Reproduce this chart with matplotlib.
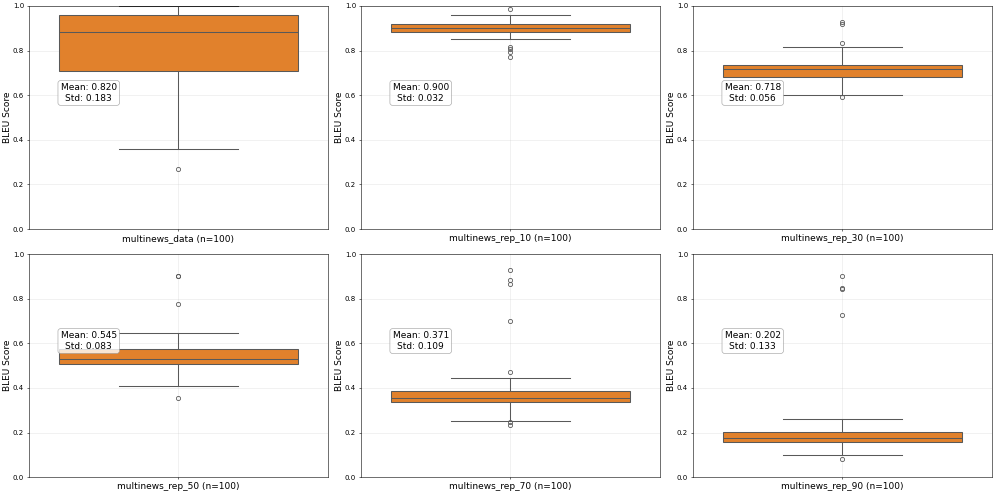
import matplotlib
matplotlib.use("Agg")
import matplotlib.pyplot as plt

# box summary stats (BLEU scores, n=100 each)
names = ["multinews_data", "multinews_rep_10", "multinews_rep_30",
         "multinews_rep_50", "multinews_rep_70", "multinews_rep_90"]
counts = [100, 100, 100, 100, 100, 100]
means = [0.820, 0.900, 0.718, 0.545, 0.371, 0.202]
stds = [0.183, 0.032, 0.056, 0.083, 0.109, 0.133]
q1 = [0.709, 0.882, 0.681, 0.507, 0.335, 0.159]
medians = [0.885, 0.900, 0.717, 0.531, 0.356, 0.177]
q3 = [0.960, 0.918, 0.736, 0.575, 0.388, 0.201]
whis_lo = [0.359, 0.851, 0.601, 0.410, 0.253, 0.099]
whis_hi = [1.000, 0.958, 0.815, 0.647, 0.443, 0.262]
fliers = [
    [0.271],
    [0.985, 0.817, 0.806, 0.795, 0.770],
    [0.930, 0.919, 0.833, 0.592],
    [0.903, 0.901, 0.778, 0.353],
    [0.930, 0.882, 0.864, 0.702, 0.473, 0.245, 0.232],
    [0.901, 0.849, 0.845, 0.728, 0.081],
]

box_color = "#e1812c"
line_color = "#595959"

fig, axes = plt.subplots(2, 3, figsize=(19.94, 9.92), dpi=50)
fig.subplots_adjust(left=0.029, right=0.995, top=0.988, bottom=0.038,
                    wspace=0.11, hspace=0.112)

for i, ax in enumerate(axes.flat):
    stats = [{
        "med": medians[i], "q1": q1[i], "q3": q3[i],
        "whislo": whis_lo[i], "whishi": whis_hi[i], "fliers": fliers[i],
    }]
    ax.bxp(stats, positions=[0], widths=0.8, patch_artist=True,
           boxprops=dict(facecolor=box_color, edgecolor=line_color, linewidth=1.5),
           medianprops=dict(color=line_color, linewidth=1.5),
           whiskerprops=dict(color=line_color, linewidth=1.5),
           capprops=dict(color=line_color, linewidth=1.5),
           flierprops=dict(marker="o", markersize=6, markerfacecolor="none",
                           markeredgecolor=line_color, markeredgewidth=1.2),
           capwidths=0.4, zorder=2)
    ax.set_xlim(-0.5, 0.5)
    ax.set_ylim(0, 1)
    ax.set_xticks([0])
    ax.set_xticklabels([f"{names[i]} (n={counts[i]})"], fontsize=13)
    ax.set_yticks([0, 0.2, 0.4, 0.6, 0.8, 1.0])
    ax.tick_params(axis="y", labelsize=10)
    ax.set_ylabel("BLEU Score", fontsize=13, labelpad=1)
    ax.grid(True, alpha=0.3)
    ax.set_axisbelow(True)
    ax.text(0.2, 0.61, f"Mean: {means[i]:.3f}\nStd: {stds[i]:.3f}",
            transform=ax.transAxes, ha="center", va="center", fontsize=13,
            bbox=dict(boxstyle="round", facecolor="white", edgecolor="0.6",
                      alpha=0.8), zorder=5)

fig.savefig("out.png", dpi=50)
